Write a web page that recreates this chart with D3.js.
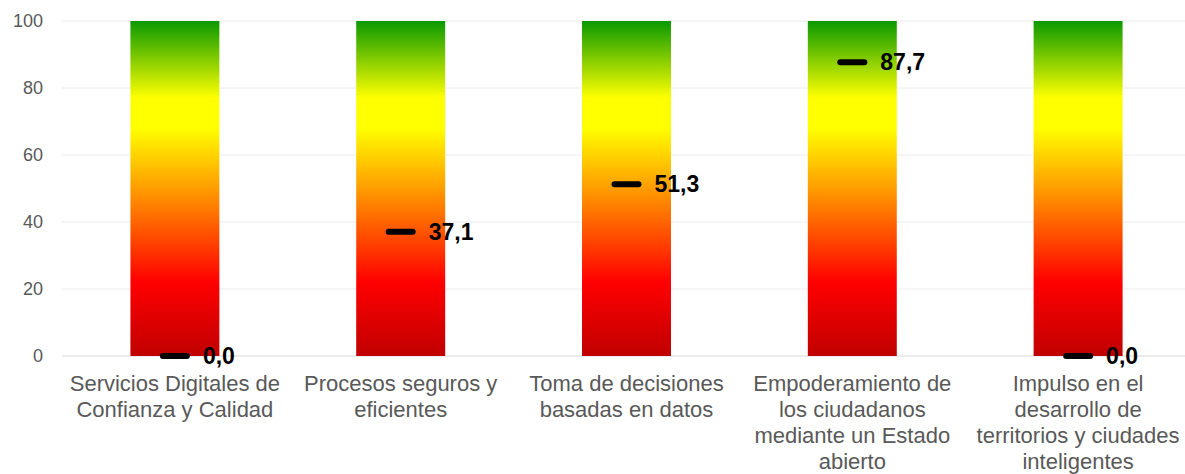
<!DOCTYPE html>
<html>
<head>
<meta charset="utf-8">
<script src="https://cdn.jsdelivr.net/npm/d3@7"></script>
<style>
  html, body { margin: 0; padding: 0; background: #fff; }
  svg { display: block; font-family: "Liberation Sans", Arial, sans-serif; }
</style>
</head>
<body>
<svg id="chart" width="1185" height="474"></svg>
<script>
const categories = [
  ["Servicios Digitales de", "Confianza y Calidad"],
  ["Procesos seguros y", "eficientes"],
  ["Toma de decisiones", "basadas en datos"],
  ["Empoderamiento de", "los ciudadanos", "mediante un Estado", "abierto"],
  ["Impulso en el", "desarrollo de", "territorios y ciudades", "inteligentes"]
];
const values = [0.0, 37.1, 51.3, 87.7, 0.0];
const yTicks = [0, 20, 40, 60, 80, 100];

const svg = d3.select("#chart");
const margin = { top: 21, right: 0, bottom: 118, left: 62 };
const width = 1185, height = 474;

const x = d3.scaleBand()
    .domain(d3.range(categories.length))
    .range([margin.left, 1191])
    .paddingInner(0.606)
    .paddingOuter(0.303);
const y = d3.scaleLinear().domain([0, 100]).range([height - margin.bottom, margin.top]);

// gradient
const grad = svg.append("defs").append("linearGradient")
    .attr("id", "bg").attr("x1", 0).attr("y1", 1).attr("x2", 0).attr("y2", 0);
[
  [0, "#c00000"], [0.22, "#ff0000"], [0.5, "#ff9c00"],
  [0.68, "#ffff00"], [0.77, "#ffff00"], [1, "#0a9900"]
].forEach(([o, c]) => grad.append("stop").attr("offset", o).attr("stop-color", c));

// grid
svg.append("g")
    .selectAll("line").data(yTicks).join("line")
    .attr("x1", margin.left).attr("x2", width)
    .attr("y1", d => y(d)).attr("y2", d => y(d))
    .attr("stroke", d => d === 0 ? "#d9d9d9" : "#ececec")
    .attr("stroke-width", 1);

// y axis labels
const yAxis = svg.append("g")
    .attr("transform", `translate(${margin.left},0)`)
    .call(d3.axisLeft(y).tickValues(yTicks).tickSize(0).tickPadding(19));
yAxis.select(".domain").remove();
yAxis.selectAll("text").attr("fill", "#595959").style("font-size", "18px");

// bars
svg.append("g").selectAll("rect").data(values).join("rect")
    .attr("x", (d, i) => x(i))
    .attr("width", x.bandwidth())
    .attr("y", y(100))
    .attr("height", y(0) - y(100))
    .attr("fill", "url(#bg)");

// markers
const cx = i => x(i) + x.bandwidth() / 2;
svg.append("g").selectAll("line").data(values).join("line")
    .attr("x1", (d, i) => cx(i) - 12)
    .attr("x2", (d, i) => cx(i) + 12)
    .attr("y1", d => y(d)).attr("y2", d => y(d))
    .attr("stroke", "#000").attr("stroke-width", 6).attr("stroke-linecap", "round");

svg.append("g").selectAll("text").data(values).join("text")
    .attr("x", (d, i) => cx(i) + 28)
    .attr("y", d => y(d))
    .attr("dy", "0.36em")
    .style("font-size", "23px").style("font-weight", "bold")
    .attr("fill", "#000")
    .text(d => d3.format(".1f")(d).replace(".", ","));

// category labels
const cat = svg.append("g").selectAll("text").data(categories).join("text")
    .attr("x", (d, i) => cx(i))
    .attr("y", 391)
    .attr("text-anchor", "middle")
    .attr("fill", "#595959")
    .style("font-size", "22px");
cat.selectAll("tspan").data(d => d).join("tspan")
    .attr("x", function() { return d3.select(this.parentNode).attr("x"); })
    .attr("dy", (d, i) => i === 0 ? 0 : 26)
    .text(d => d);
</script>
</body>
</html>
